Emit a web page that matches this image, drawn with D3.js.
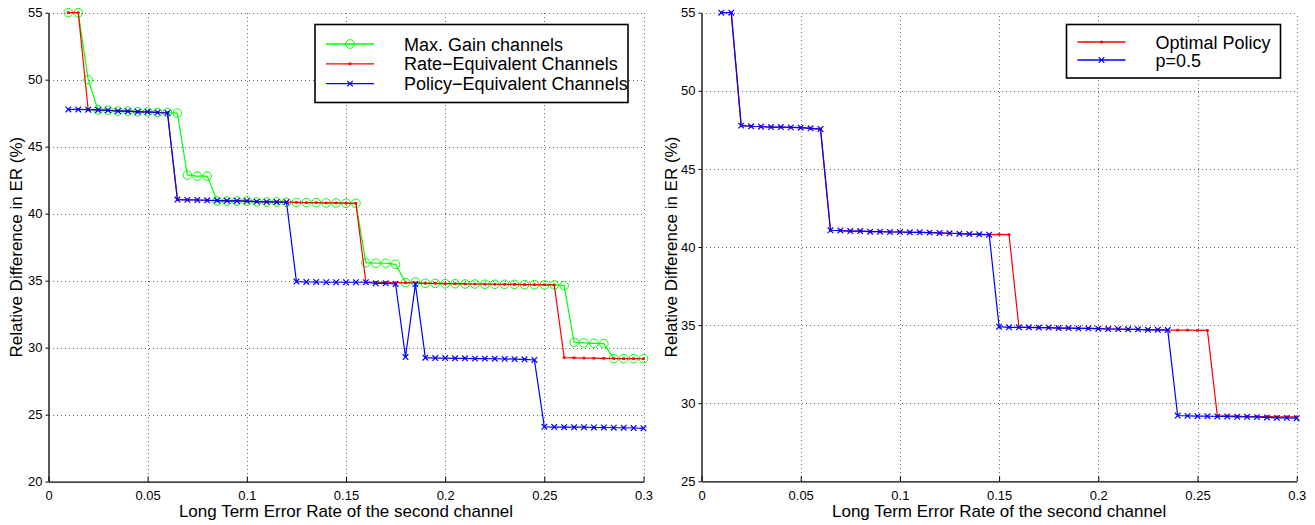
<!DOCTYPE html>
<html>
<head>
<meta charset="utf-8">
<script src="https://cdn.jsdelivr.net/npm/d3@7"></script>
<style>
  html, body { margin: 0; padding: 0; background: #fff; }
  svg { display: block; font-family: "Liberation Sans", Arial, Helvetica, sans-serif; }
</style>
</head>
<body>
<svg id="chart" width="1315" height="525"></svg>
<script>
// ---------- DATA ----------
const errorRates = [0.01,0.015,0.02,0.025,0.03,0.035,0.04,0.045,0.05,0.055,0.06,0.065,0.07,0.075,0.08,0.085,0.09,0.095,0.1,0.105,0.11,0.115,0.12,0.125,0.13,0.135,0.14,0.145,0.15,0.155,0.16,0.165,0.17,0.175,0.18,0.185,0.19,0.195,0.2,0.205,0.21,0.215,0.22,0.225,0.23,0.235,0.24,0.245,0.25,0.255,0.26,0.265,0.27,0.275,0.28,0.285,0.29,0.295,0.3];

// Left panel
const maxGain = [55,55,50,47.74,47.72,47.66,47.65,47.6,47.6,47.55,47.55,47.5,42.88,42.8,42.8,40.95,40.94,40.94,40.94,40.88,40.87,40.87,40.86,40.83,40.82,40.82,40.8,40.8,40.77,40.77,36.34,36.3,36.3,36.22,34.85,34.9,34.8,34.8,34.77,34.77,34.75,34.75,34.73,34.73,34.73,34.72,34.7,34.7,34.68,34.68,34.63,30.4,30.35,30.32,30.3,29.18,29.18,29.18,29.17];
const rateEquivalent = [55,55,47.76,47.74,47.72,47.66,47.65,47.6,47.6,47.55,47.53,41.05,41.03,41.02,41.0,40.98,40.96,40.95,40.94,40.9,40.88,40.87,40.86,40.84,40.82,40.82,40.8,40.8,40.78,40.77,34.9,34.88,34.86,34.85,34.84,34.83,34.8,34.8,34.78,34.77,34.76,34.75,34.74,34.73,34.72,34.72,34.71,34.7,34.69,34.68,29.26,29.24,29.22,29.21,29.2,29.19,29.18,29.18,29.17];
const policyEquivalent = [47.78,47.78,47.76,47.74,47.72,47.66,47.65,47.6,47.6,47.55,47.53,41.05,41.03,41.02,41.0,40.98,40.96,40.95,40.94,40.9,40.88,40.87,40.86,34.93,34.9,34.9,34.88,34.88,34.88,34.88,34.88,34.8,34.8,34.75,29.3,34.74,29.25,29.22,29.22,29.2,29.2,29.18,29.18,29.17,29.16,29.14,29.13,29.08,24.09,24.07,24.06,24.06,24.06,24.04,24.04,24.02,24.02,24.0,23.98];

// Right panel
const optimalPolicy = [55,55,47.77,47.73,47.7,47.68,47.68,47.66,47.64,47.6,47.55,41.07,41.05,41.02,41.02,40.98,40.98,40.96,40.96,40.94,40.94,40.92,40.9,40.88,40.85,40.83,40.81,40.79,40.81,40.79,34.86,34.86,34.84,34.84,34.81,34.81,34.79,34.79,34.77,34.75,34.75,34.73,34.73,34.7,34.7,34.68,34.68,34.68,34.66,34.66,29.19,29.19,29.17,29.15,29.15,29.15,29.13,29.13,29.13];
const halfPolicy = [55,55,47.77,47.73,47.7,47.68,47.68,47.66,47.64,47.6,47.55,41.07,41.05,41.02,41.02,40.98,40.98,40.96,40.96,40.94,40.94,40.92,40.9,40.88,40.85,40.83,40.81,40.79,34.9,34.86,34.86,34.86,34.84,34.84,34.81,34.81,34.79,34.79,34.77,34.75,34.75,34.73,34.73,34.7,34.7,34.68,29.21,29.19,29.17,29.17,29.15,29.15,29.13,29.13,29.11,29.09,29.06,29.06,29.04];

const xTicks = [0,0.05,0.1,0.15,0.2,0.25,0.3];
const xTickLabels = ["0","0.05","0.1","0.15","0.2","0.25","0.3"];
const leftYTicks = [20,25,30,35,40,45,50,55];
const rightYTicks = [25,30,35,40,45,50,55];

const xLabel = "Long Term Error Rate of the second channel";
const yLabel = "Relative Difference in ER (%)";

const leftSeries = [
  {name: "Max. Gain channels", values: maxGain, color: "#00ff00", marker: "circle"},
  {name: "Rate\u2212Equivalent Channels", values: rateEquivalent, color: "#ff0000", marker: "dot"},
  {name: "Policy\u2212Equivalent Channels", values: policyEquivalent, color: "#0000ff", marker: "x"}
];
const rightSeries = [
  {name: "Optimal Policy", values: optimalPolicy, color: "#ff0000", marker: "dot"},
  {name: "p=0.5", values: halfPolicy, color: "#0000ff", marker: "x"}
];

// ---------- DRAW ----------
const svg = d3.select("#chart");

function drawMarker(g, type, x, y, color) {
  if (type === "circle") {
    g.append("circle").attr("cx", x).attr("cy", y).attr("r", 4.3)
      .attr("fill", "none").attr("stroke", color).attr("stroke-width", 1);
  } else if (type === "dot") {
    g.append("rect").attr("x", x - 1.3).attr("y", y - 1.3).attr("width", 2.6).attr("height", 2.6)
      .attr("fill", color);
  } else if (type === "x") {
    const s = 2.8;
    g.append("path").attr("d", `M${x-s},${y-s}L${x+s},${y+s}M${x-s},${y+s}L${x+s},${y-s}`)
      .attr("stroke", color).attr("stroke-width", 1.2).attr("fill", "none");
  }
}

function panel(opts) {
  const x = d3.scaleLinear().domain([0, 0.3]).range([opts.x0, opts.x1]);
  const y = d3.scaleLinear().domain(opts.yDomain).range([opts.yBottom, opts.yTop]);
  const g = svg.append("g");

  // grid
  const grid = g.append("g").attr("stroke", "#6a6a6a").attr("stroke-width", 1)
    .attr("stroke-dasharray", "1,3").attr("shape-rendering", "crispEdges");
  xTicks.forEach(t => {
    if (t === 0) return;
    grid.append("line").attr("x1", Math.round(x(t)) + 0.5).attr("x2", Math.round(x(t)) + 0.5)
      .attr("y1", opts.yBottom).attr("y2", opts.yTop);
  });
  opts.yTicks.forEach(t => {
    if (t === opts.yDomain[0]) return;
    grid.append("line").attr("y1", Math.round(y(t)) + 0.5).attr("y2", Math.round(y(t)) + 0.5)
      .attr("x1", opts.x0).attr("x2", opts.x1);
  });

  // axes
  const xAxis = d3.axisBottom(x).tickValues(xTicks)
    .tickFormat((d, i) => xTickLabels[i]).tickSizeInner(-5).tickSizeOuter(0).tickPadding(9);
  const gx = g.append("g").attr("transform", `translate(0,${opts.yBottom})`).call(xAxis);
  const yAxis = d3.axisLeft(y).tickValues(opts.yTicks).tickFormat(d3.format("d"))
    .tickSize(3).tickSizeOuter(0).tickPadding(3);
  const gy = g.append("g").attr("transform", `translate(${opts.x0},0)`).call(yAxis);
  [gx, gy].forEach(a => {
    a.select(".domain").attr("stroke", "#000").attr("stroke-width", 1.3);
    a.selectAll(".tick line").attr("stroke", "#000");
    a.selectAll(".tick text").attr("font-size", 13).attr("fill", "#000")
      .attr("font-family", "'Liberation Sans', Arial, sans-serif");
  });

  // axis labels
  g.append("text").attr("x", (opts.x0 + opts.x1) / 2).attr("y", 517)
    .attr("text-anchor", "middle").attr("font-size", 17).text(xLabel);
  g.append("text").attr("transform", `translate(${opts.yLabelX},${(opts.yTop + opts.yBottom) / 2}) rotate(-90)`)
    .attr("text-anchor", "middle").attr("font-size", 17).text(yLabel);

  // series
  const line = d3.line().x((d, i) => x(errorRates[i])).y(d => y(d));
  opts.series.forEach(s => {
    const sg = g.append("g");
    sg.append("path").datum(s.values).attr("d", line).attr("fill", "none")
      .attr("stroke", s.color).attr("stroke-width", 1.2);
    s.values.forEach((v, i) => drawMarker(sg, s.marker, x(errorRates[i]), y(v), s.color));
  });

  // legend
  const L = opts.legend;
  const lg = g.append("g");
  lg.append("rect").attr("x", L.x).attr("y", L.y).attr("width", L.w).attr("height", L.h)
    .attr("fill", "#fff").attr("stroke", "#000").attr("stroke-width", 1.6);
  opts.series.forEach((s, i) => {
    const ry = L.y + L.firstRow + i * L.rowGap;
    lg.append("line").attr("x1", L.x + 11).attr("x2", L.x + 59).attr("y1", ry).attr("y2", ry)
      .attr("stroke", s.color).attr("stroke-width", 1.3);
    drawMarker(lg, s.marker, L.x + 35, ry, s.color);
    lg.append("text").attr("x", L.x + L.textOff).attr("y", ry + 6.5).attr("font-size", 18)
      .attr("fill", "#000").text(s.name);
  });
}

panel({
  x0: 48.5, x1: 643.5, yTop: 12.7, yBottom: 481.6, yDomain: [20, 55], yTicks: leftYTicks,
  yLabelX: 22, series: leftSeries,
  legend: {x: 315, y: 24.5, w: 313, h: 78, firstRow: 19.5, rowGap: 19.8, textOff: 89}
});
panel({
  x0: 701.5, x1: 1296.7, yTop: 12.7, yBottom: 481.3, yDomain: [25, 55], yTicks: rightYTicks,
  yLabelX: 677, series: rightSeries,
  legend: {x: 1066.5, y: 24.5, w: 214, h: 53.5, firstRow: 17.5, rowGap: 18, textOff: 89}
});
</script>
</body>
</html>
